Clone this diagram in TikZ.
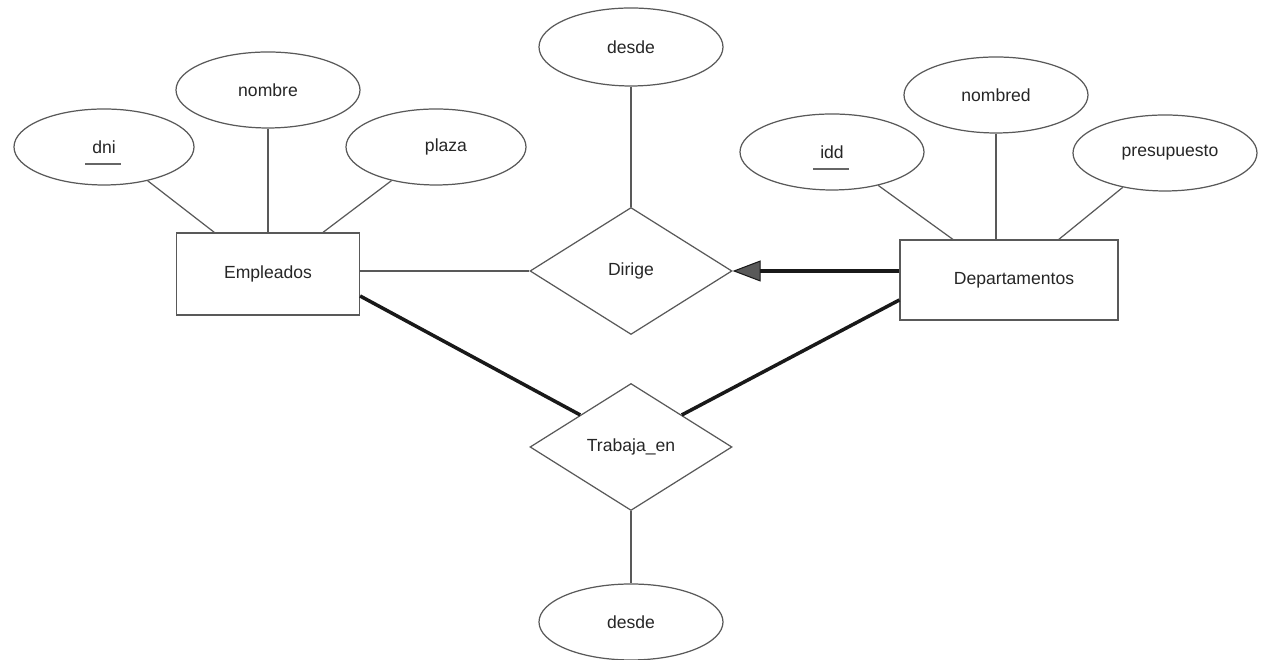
\documentclass[tikz,border=0pt]{standalone}
\usepackage{fontspec}
\setmainfont{Liberation Sans}
\usetikzlibrary{shapes.geometric,arrows.meta}
% atributo clave: subrayado algo separado del texto
\newcommand{\clave}[1]{\setbox0\hbox{#1}\rlap{\kern-4pt\smash{\raisebox{-6.5pt}{\color{black!60}\rule{\dimexpr\wd0+7pt}{0.7pt}}}}\box0}

\begin{document}
\begin{tikzpicture}[node distance=2cm]
\useasboundingbox (0,0) rectangle (25.22,13.2);

\tikzstyle{atr} = [ellipse, minimum width=3.68cm, minimum height=1.52cm, inner sep=0pt, draw=black!65, line width=0.7pt, text=black!85]
\tikzstyle{ent} = [rectangle, minimum height=1.64cm, text centered, draw=black!65, line width=0.7pt, text=black!85]
\tikzstyle{rel} = [diamond, minimum width=4.04cm, minimum height=2.54cm, inner sep=0pt, draw=black!65, line width=0.7pt, text=black!85]
\tikzstyle{fina} = [draw=black!65, line width=0.7pt]
\tikzstyle{gruesa} = [draw=black!90, line width=2pt]

\node (dirige) [rel] at (12.62,7.78) {Dirige};
\node (trabaja) [rel, below of=dirige, node distance=3.52cm] {Trabaja\_en};
\node (desdea) [atr, above of=dirige, node distance=4.46cm, yshift=0.02cm, minimum height=1.56cm] {desde};
\node (desdeb) [atr, below of=trabaja, node distance=3.5cm] {desde};
\node (emp) [ent, minimum width=3.66cm, left of=dirige, node distance=7.26cm, yshift=-0.06cm] {Empleados};
\node (dep) [ent, minimum width=4.36cm, minimum height=1.6cm, right of=dirige, node distance=7.56cm, yshift=-0.18cm] {\hspace{0.2cm}Departamentos};
\node (nombre) [atr, above of=emp, node distance=3.68cm] {nombre};
\node (dni) [atr, above of=emp, node distance=2.54cm, xshift=-3.28cm, minimum width=3.6cm] {\clave{dni}\hspace{0.36cm}};
\node (plaza) [atr, above of=emp, node distance=2.54cm, xshift=3.36cm, minimum width=3.6cm] {\hspace{0.4cm}plaza};
\node (nombred) [atr, above of=dep, node distance=3.7cm, xshift=-0.26cm] {nombred};
\node (idd) [atr, above of=dep, node distance=2.56cm, xshift=-3.54cm] {\clave{idd}\hspace{0.36cm}};
\node (presup) [atr, above of=dep, node distance=2.54cm, xshift=3.12cm] {\hspace{0.2cm}presupuesto};

\draw[fina] (dni)--(emp);
\draw[fina] (nombre)--(emp);
\draw[fina] (plaza)--(emp);
\draw[fina] (idd)--(dep);
\draw[fina] (nombred)--(nombred |- dep.north);
\draw[fina] (presup)--(dep);
\draw[fina] (desdea)--(dirige);
\draw[fina] (emp.east |- dirige.west)--(dirige.west);
\draw[gruesa, -{Triangle[length=16pt, width=12pt, fill=black!65, line width=0.6pt]}] (dep.west |- dirige.east)--(dirige.east);
\draw[gruesa] ([yshift=-0.44cm]emp.east)--(trabaja.north west);
\draw[gruesa] ([yshift=-0.4cm]dep.west)--(trabaja.north east);
\draw[fina] (trabaja)--(desdeb);
\end{tikzpicture}
\end{document}
